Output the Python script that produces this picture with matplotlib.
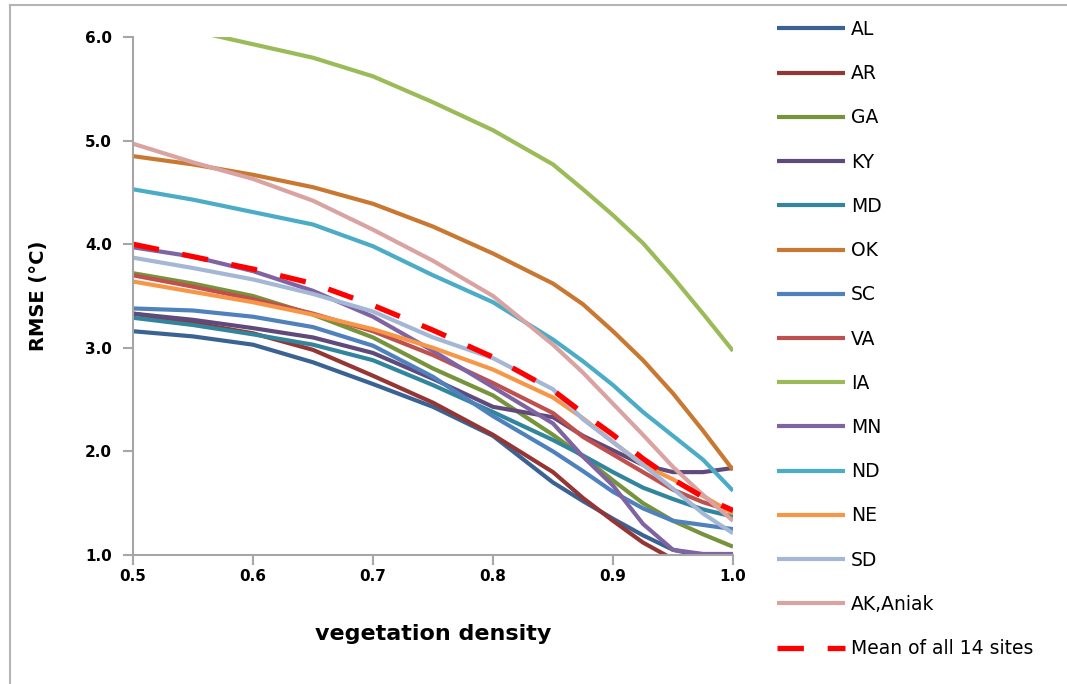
import numpy as np
import matplotlib
matplotlib.use("Agg")
import matplotlib.pyplot as plt
from matplotlib.lines import Line2D

# vegetation density grid
density = [0.5, 0.55, 0.6, 0.65, 0.7, 0.75, 0.8, 0.85, 0.875, 0.9, 0.925, 0.95, 0.975, 1.0]

# RMSE (deg C) per site
AL = [3.16, 3.11, 3.03, 2.86, 2.65, 2.43, 2.15, 1.70, 1.52, 1.35, 1.19, 1.05, 0.99, 0.97]
AR = [3.33, 3.24, 3.14, 2.98, 2.73, 2.47, 2.16, 1.80, 1.55, 1.33, 1.12, 0.96, 0.85, 0.75]
GA = [3.72, 3.62, 3.50, 3.32, 3.10, 2.80, 2.54, 2.16, 1.95, 1.72, 1.50, 1.33, 1.20, 1.08]
KY = [3.33, 3.27, 3.19, 3.10, 2.95, 2.70, 2.43, 2.33, 2.15, 2.01, 1.87, 1.80, 1.80, 1.84]
MD = [3.29, 3.22, 3.13, 3.03, 2.88, 2.64, 2.38, 2.11, 1.96, 1.80, 1.65, 1.54, 1.44, 1.37]
OK = [4.85, 4.77, 4.67, 4.55, 4.39, 4.17, 3.91, 3.62, 3.42, 3.16, 2.88, 2.56, 2.20, 1.82]
SC = [3.38, 3.36, 3.30, 3.20, 3.02, 2.72, 2.34, 2.00, 1.81, 1.61, 1.45, 1.33, 1.29, 1.25]
VA = [3.70, 3.59, 3.47, 3.33, 3.16, 2.93, 2.66, 2.37, 2.14, 1.97, 1.80, 1.63, 1.51, 1.42]
IA = [6.17, 6.06, 5.93, 5.80, 5.62, 5.37, 5.10, 4.77, 4.53, 4.28, 4.01, 3.68, 3.33, 2.97]
MN = [3.97, 3.88, 3.74, 3.55, 3.30, 2.97, 2.62, 2.27, 1.95, 1.67, 1.30, 1.05, 1.01, 1.01]
ND = [4.53, 4.43, 4.31, 4.19, 3.98, 3.70, 3.44, 3.08, 2.87, 2.64, 2.38, 2.15, 1.92, 1.62]
NE = [3.64, 3.54, 3.44, 3.32, 3.18, 3.00, 2.79, 2.52, 2.32, 2.09, 1.87, 1.73, 1.57, 1.40]
SD = [3.87, 3.77, 3.66, 3.52, 3.35, 3.10, 2.90, 2.60, 2.31, 2.09, 1.87, 1.64, 1.40, 1.21]
AK = [4.97, 4.79, 4.63, 4.42, 4.14, 3.84, 3.50, 3.03, 2.76, 2.46, 2.16, 1.85, 1.58, 1.33]
mean_all = [4.00, 3.88, 3.76, 3.62, 3.41, 3.17, 2.91, 2.59, 2.37, 2.16, 1.93, 1.73, 1.56, 1.43]

sites = ["AL", "AR", "GA", "KY", "MD", "OK", "SC", "VA", "IA", "MN", "ND", "NE", "SD", "AK,Aniak"]
values = [AL, AR, GA, KY, MD, OK, SC, VA, IA, MN, ND, NE, SD, AK]
colors = ["#3A6394", "#943634", "#77933C", "#604A7B", "#31859C", "#C97832", "#4F81BD",
          "#C0504D", "#9BBB59", "#8064A2", "#4BACC6", "#F79646", "#A4B7D4", "#D9A3A1"]

fig = plt.figure(figsize=(10.67, 6.84), dpi=100)
ax = fig.add_axes([133/1067, 1-555/684, 600/1067, 518/684])

for name, v, c in zip(sites, values, colors):
    ax.plot(density, v, color=c, lw=3, label=name, solid_capstyle="butt")
ax.plot(density, mean_all, color="#FF0000", lw=3.8, ls=(0, (5, 4.5)), label="Mean of all 14 sites")

ax.set_xlim(0.5, 1.0)
ax.set_ylim(1.0, 6.0)
ax.set_xticks([0.5, 0.6, 0.7, 0.8, 0.9, 1.0])
ax.set_yticks([1, 2, 3, 4, 5, 6])
ax.xaxis.set_major_formatter(plt.FormatStrFormatter("%.1f"))
ax.yaxis.set_major_formatter(plt.FormatStrFormatter("%.1f"))
for s in ["top", "right"]:
    ax.spines[s].set_visible(False)
for s in ["left", "bottom"]:
    ax.spines[s].set_color("#A6A6A6")
    ax.spines[s].set_linewidth(1.5)
ax.tick_params(direction="out", length=7, width=1.5, color="#A6A6A6", labelsize=11)
ax.tick_params(axis="x", pad=3)
ax.tick_params(axis="y", pad=8)
for lab in ax.get_xticklabels() + ax.get_yticklabels():
    lab.set_fontweight("bold")

ax.set_xlabel("vegetation density", fontsize=16, fontweight="bold", labelpad=29)
ax.set_ylabel("RMSE (\u00b0C)", fontsize=14, fontweight="bold", labelpad=27)

ax.legend(loc="upper left", bbox_to_anchor=(777/1067, 1-20/684), bbox_transform=fig.transFigure,
          frameon=False, fontsize=13.5, handlelength=3.65, handletextpad=0.3,
          labelspacing=1.345, borderpad=0, borderaxespad=0)

# chart border
fig.add_artist(Line2D([10/1067, 10/1067], [0, 1-5/684], color="#B4B4B4", lw=1.5))
fig.add_artist(Line2D([10/1067, 1], [1-5/684, 1-5/684], color="#B4B4B4", lw=1.5))

fig.savefig("out.png", dpi=100)
